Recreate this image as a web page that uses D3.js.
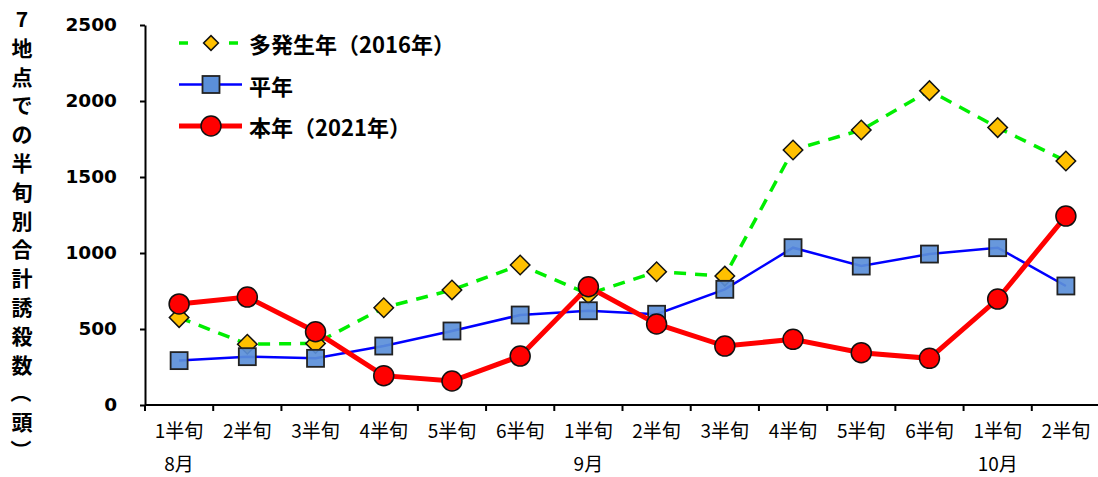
<!DOCTYPE html>
<html>
<head>
<meta charset="utf-8">
<script src="https://cdn.jsdelivr.net/npm/d3@7"></script>
<style>
  body { margin: 0; background: #fff; }
  svg { display: block; }
  text { font-family: "Noto Sans CJK JP", "Liberation Sans", sans-serif; }
</style>
</head>
<body>
<div id="chart"></div>
<script>
// categories (half-pentads) and month labels
var categories = ["8-1", "8-2", "8-3", "8-4", "8-5", "8-6", "9-1", "9-2", "9-3", "9-4", "9-5", "9-6", "10-1", "10-2"];
var tickLabels = ["1半旬", "2半旬", "3半旬", "4半旬", "5半旬", "6半旬", "1半旬", "2半旬", "3半旬", "4半旬", "5半旬", "6半旬", "1半旬", "2半旬"];
var months = [{ label: "8月", at: "8-1" }, { label: "9月", at: "9-1" }, { label: "10月", at: "10-1" }];

// series values
var outbreak2016 = [575, 400, 405, 640, 757, 921, 730, 877, 848, 1678, 1809, 2068, 1825, 1605];
var normalYear   = [292, 318, 307, 388, 487, 592, 620, 597, 761, 1035, 914, 993, 1035, 783];
var year2021     = [665, 710, 482, 193, 158, 322, 778, 533, 388, 432, 344, 307, 697, 1243];

var yTicks = [0, 500, 1000, 1500, 2000, 2500];
var yLabel = "7地点での半旬別合計誘殺数（頭）";

var W = 1098, H = 477;
var plotL = 145, plotR = 1100, plotT = 25, plotB = 405;

var svg = d3.select("#chart").append("svg")
    .attr("width", W)
    .attr("height", H);

var x = d3.scaleBand().domain(categories).range([plotL, plotR]).paddingInner(0).paddingOuter(0);
var y = d3.scaleLinear().domain([0, 2500]).range([plotB, plotT]);

function cx(i) { return x(categories[i]) + x.bandwidth() / 2; }

// y axis
var yAxis = svg.append("g")
    .attr("transform", "translate(" + plotL + ",0)")
    .call(d3.axisLeft(y).tickValues(yTicks).tickFormat(d3.format("d")).tickSize(5).tickSizeOuter(0));
yAxis.select(".domain").attr("stroke", "#000").attr("stroke-width", 2);
yAxis.selectAll(".tick line").attr("stroke", "#000").attr("stroke-width", 2);
yAxis.selectAll(".tick text")
    .attr("x", -28)
    .style("font-family", "'DejaVu Sans', sans-serif")
    .style("font-size", "18.5px")
    .style("font-weight", "bold")
    .attr("fill", "#000");

// x axis with ticks at band boundaries
var xAxis = svg.append("g")
    .attr("transform", "translate(0," + plotB + ")");
xAxis.append("line")
    .attr("x1", plotL).attr("x2", plotR)
    .attr("stroke", "#000").attr("stroke-width", 2);
var bounds = categories.map(function(c) { return x(c); }).concat([plotR]);
xAxis.selectAll(".xt").data(bounds).enter().append("line")
    .attr("x1", function(d) { return d; }).attr("x2", function(d) { return d; })
    .attr("y1", 0).attr("y2", 6)
    .attr("stroke", "#000").attr("stroke-width", 2);
xAxis.selectAll(".xl").data(tickLabels).enter().append("text")
    .attr("x", function(d, i) { return cx(i); })
    .attr("y", 33)
    .attr("text-anchor", "middle")
    .style("font-size", "19px")
    .attr("fill", "#000")
    .text(function(d) { return d; });
xAxis.selectAll(".ml").data(months).enter().append("text")
    .attr("x", function(d) { return x(d.at) + x.bandwidth() / 2; })
    .attr("y", 66)
    .attr("text-anchor", "middle")
    .style("font-size", "19px")
    .attr("fill", "#000")
    .text(function(d) { return d.label; });

// vertical y label, one glyph per line
svg.append("g").selectAll("text").data(yLabel.split("")).enter().append("text")
    .attr("transform", function(d, i) {
        var yy = 18 + i * 28.8;
        var rot = (d === "（" || d === "）") ? " rotate(90)" : "";
        return "translate(22," + yy + ")" + rot;
    })
    .attr("text-anchor", "middle")
    .attr("dominant-baseline", "central")
    .style("font-size", "21px")
    .style("font-weight", "bold")
    .attr("fill", "#000")
    .text(function(d) { return d; });

var line = d3.line()
    .x(function(d, i) { return cx(i); })
    .y(function(d) { return y(d); });

// 2016 outbreak year
svg.append("path")
    .datum(outbreak2016)
    .attr("d", line)
    .attr("fill", "none")
    .attr("stroke", "#00ee00")
    .attr("stroke-width", 3.5)
    .attr("stroke-dasharray", "12,9");
svg.selectAll(".dia").data(outbreak2016).enter().append("path")
    .attr("d", d3.symbol().type(d3.symbolSquare).size(190))
    .attr("transform", function(d, i) { return "translate(" + cx(i) + "," + y(d) + ") rotate(45)"; })
    .attr("fill", "#FFC000")
    .attr("stroke", "#111")
    .attr("stroke-width", 1.5);

// normal year
svg.append("path")
    .datum(normalYear)
    .attr("d", line)
    .attr("fill", "none")
    .attr("stroke", "#0000ff")
    .attr("stroke-width", 2.5);
svg.selectAll(".sq").data(normalYear).enter().append("rect")
    .attr("x", function(d, i) { return cx(i) - 8.5; })
    .attr("y", function(d) { return y(d) - 8.5; })
    .attr("width", 17).attr("height", 17)
    .attr("fill", "#5b8fd9")
    .attr("fill-opacity", 0.92)
    .attr("stroke", "#222")
    .attr("stroke-width", 1.8);

// 2021
svg.append("path")
    .datum(year2021)
    .attr("d", line)
    .attr("fill", "none")
    .attr("stroke", "#ff0000")
    .attr("stroke-width", 5);
svg.selectAll(".ci").data(year2021).enter().append("circle")
    .attr("cx", function(d, i) { return cx(i); })
    .attr("cy", function(d) { return y(d); })
    .attr("r", 10)
    .attr("fill", "#ff0000")
    .attr("stroke", "#111")
    .attr("stroke-width", 1.5);

// legend
var legend = [
    { label: "多発生年（2016年）", type: "dia" },
    { label: "平年", type: "sq" },
    { label: "本年（2021年）", type: "ci" }
];
var lg = svg.append("g");
legend.forEach(function(d, i) {
    var ly = 43 + i * 41.5;
    var g = lg.append("g").attr("transform", "translate(0," + ly + ")");
    if (d.type === "dia") {
        g.append("line").attr("x1", 179).attr("x2", 242)
            .attr("stroke", "#00ee00").attr("stroke-width", 3.5).attr("stroke-dasharray", "9,16");
        g.append("path").attr("d", d3.symbol().type(d3.symbolSquare).size(110))
            .attr("transform", "translate(211,0) rotate(45)")
            .attr("fill", "#FFC000").attr("stroke", "#111").attr("stroke-width", 1.5);
    } else if (d.type === "sq") {
        g.append("line").attr("x1", 179).attr("x2", 242)
            .attr("stroke", "#0000ff").attr("stroke-width", 2.5);
        g.append("rect").attr("x", 211 - 8.5).attr("y", -8.5).attr("width", 17).attr("height", 17)
            .attr("fill", "#5b8fd9").attr("stroke", "#222").attr("stroke-width", 1.8);
    } else {
        g.append("line").attr("x1", 179).attr("x2", 242)
            .attr("stroke", "#ff0000").attr("stroke-width", 5);
        g.append("circle").attr("cx", 211).attr("cy", 0).attr("r", 10)
            .attr("fill", "#ff0000").attr("stroke", "#111").attr("stroke-width", 1.5);
    }
    g.append("text")
        .attr("x", 249).attr("y", 0)
        .attr("dominant-baseline", "central")
        .style("font-size", "22px")
        .style("font-weight", "bold")
        .attr("fill", "#000")
        .text(d.label);
});
</script>
</body>
</html>
